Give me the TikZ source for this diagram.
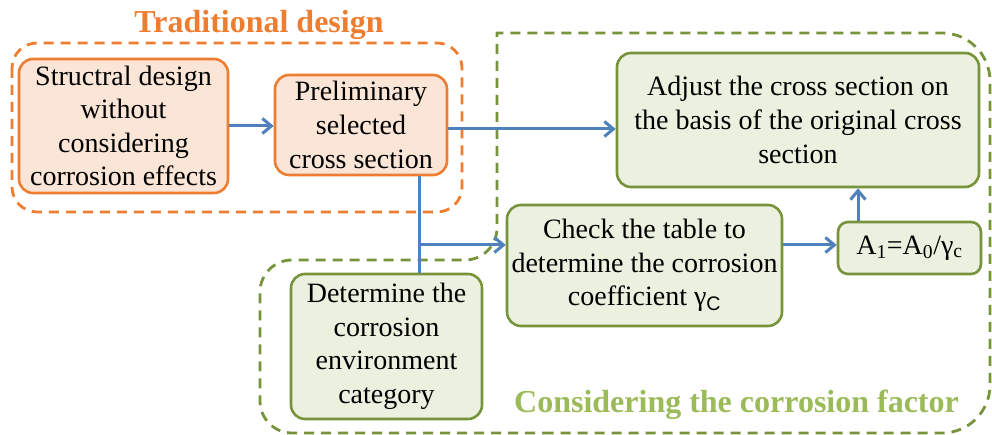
\documentclass[tikz,border=0pt]{standalone}
\usepackage{fontspec}
\setmainfont{Liberation Serif}
\setsansfont{Liberation Sans}
\usetikzlibrary{arrows.meta}

\definecolor{tradline}{HTML}{ED7D31}
\definecolor{tradfill}{HTML}{FBE5D6}
\definecolor{corrline}{HTML}{77933C}
\definecolor{corrfill}{HTML}{EBF1DE}
\definecolor{corrhead}{HTML}{9BBB59}
\definecolor{flowblue}{HTML}{4F81BD}

\newcommand\boxfont{\fontsize{28}{33.6}\selectfont}
\newcommand\headfont{\fontsize{32}{38}\selectfont\bfseries}

\begin{document}
\begin{tikzpicture}[x=10pt, y=-10pt,
  tradbox/.style={draw=tradline, fill=tradfill, line width=2.6pt, rounded corners=14pt,
    align=center, font=\boxfont, inner sep=2pt},
  corrbox/.style={tradbox, draw=corrline, fill=corrfill},
  zone/.style={dash pattern=on 10pt off 7pt, line width=2.8pt},
  flow/.style={draw=flowblue, line width=3pt, -{Straight Barb[length=9pt, width=15pt]}}]

  \useasboundingbox (0,0) rectangle (99.2,43.5);

  % dashed groups
  \draw[zone, draw=tradline, rounded corners=25pt] (1.2,4.3) rectangle (46.2,21.2);
  \draw[zone, draw=corrline] (60,43.3) [rounded corners=32pt] -- (26.0,43.3) -- (26.0,26.0)
    -- (49.7,26.0) [sharp corners] -- (49.7,3.3) [rounded corners=48pt] -- (99.0,3.3)
    -- (99.0,43.3) -- cycle;

  \node[text=tradline, font=\headfont, anchor=base] (tradhead) at (25.9,3.3) {Traditional design};
  \node[text=corrhead, font=\headfont, anchor=base] (corrhead) at (73.65,41.2) {Considering the corrosion factor};

  % traditional design
  \node[tradbox, minimum width=209pt, minimum height=134pt] (design) at (12.35,12.6)
    {Structral design\\without\\considering\\corrosion effects};
  \node[tradbox, minimum width=172pt, minimum height=100pt] (prelim) at (36.1,12.5)
    {Preliminary\\selected\\cross section};

  % corrosion factor
  \node[corrbox, minimum width=362pt, minimum height=134pt] (adjust) at (79.8,12.0)
    {Adjust the cross section on\\the basis of the original cross\\section};
  \node[corrbox, minimum width=275pt, minimum height=121pt] (table) at (64.45,26.55)
    {Check the table to\\determine the corrosion\\coefficient γ\textsubscript{\sffamily C}};
  \node[corrbox, minimum width=143pt, minimum height=52pt, rounded corners=10pt] (ratio) at (90.95,24.8)
    {A\textsubscript{1}=A\textsubscript{0}/γ\textsubscript{c}};
  \node[corrbox, minimum width=191pt, minimum height=145pt] (envir) at (38.65,34.65)
    {Determine the\\corrosion\\environment\\category};

  % connectors
  \coordinate (jn) at (41.9,24.5);
  \coordinate (lift) at (85.8,24.8);
  \draw[flow] (design.east) -- (design.east -| prelim.west);
  \draw[flow] ([yshift=-4pt]prelim.east) -- ([yshift=-4pt]prelim.east -| adjust.west);
  \draw[flowblue, line width=3pt] (prelim.south -| jn) -- (envir.north -| jn);
  \draw[flow] (jn) -- (jn -| table.west);
  \draw[flow] (jn -| table.east) -- (jn -| ratio.west);
  \draw[flow] (ratio.north -| lift) -- (adjust.south -| lift);

\end{tikzpicture}
\end{document}
